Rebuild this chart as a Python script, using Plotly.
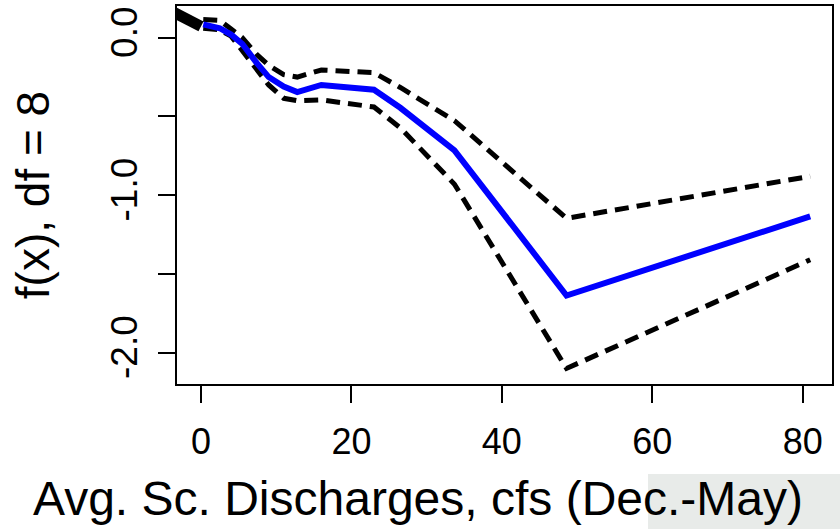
import plotly.graph_objects as go

# Data
x_vals = [0.3, 2.5, 4.0, 5.5, 7.4, 9.0, 11.0, 12.8, 16.0, 23.0, 26.5, 33.7, 48.6, 81.0]
fit_vals = [0.085, 0.06, 0.02, -0.04, -0.16, -0.25, -0.31, -0.345, -0.30, -0.33, -0.445, -0.715, -1.637, -1.135]
upper_vals = [0.115, 0.11, 0.055, 0.0, -0.106, -0.175, -0.235, -0.25, -0.205, -0.222, -0.316, -0.527, -1.147, -0.88]
lower_vals = [0.06, 0.05, 0.01, -0.08, -0.20, -0.30, -0.385, -0.40, -0.395, -0.44, -0.572, -0.93, -2.10, -1.41]

lead_x = [-4.0, 0.0]
lead_y = [0.170, 0.072]

x_ticks = [0, 20, 40, 60, 80]
x_ticktext = ["0", "20", "40", "60", "80"]
y_ticks = [0.0, -0.5, -1.0, -1.5, -2.0]
y_ticktext = ["0.0", "", "-1.0", "", "-2.0"]

x_title = "Avg. Sc. Discharges, cfs (Dec.-May)"
y_title = "f(x), df = 8"

FONT = "Liberation Sans, Arial, Helvetica, sans-serif"

L, R, T, B = 177, 832, 6, 384
W, H = 840, 529

def px_x(p):
    return (p - L) / (R - L)

def px_y(p):
    return (B - p) / (B - T)

fig = go.Figure()
fig.add_trace(go.Scatter(x=x_vals, y=upper_vals, mode="lines",
                         line=dict(color="black", width=5, dash="14px,8px")))
fig.add_trace(go.Scatter(x=x_vals, y=lower_vals, mode="lines",
                         line=dict(color="black", width=5, dash="14px,8px")))
fig.add_trace(go.Scatter(x=x_vals, y=fit_vals, mode="lines",
                         line=dict(color="#0000ff", width=6)))
fig.add_trace(go.Scatter(x=lead_x, y=lead_y, mode="lines",
                         line=dict(color="black", width=11)))

fig.update_layout(
    width=W, height=H,
    margin=dict(l=L, r=W - R, t=T, b=H - B, autoexpand=False),
    paper_bgcolor="white", plot_bgcolor="white",
    showlegend=False,
    font=dict(family=FONT, color="black"),
    shapes=[dict(type="rect", xref="paper", yref="paper",
                 x0=px_x(648), x1=px_x(845),
                 y0=px_y(535), y1=px_y(474),
                 fillcolor="#e8ebe9", line=dict(width=0), layer="below")],
    annotations=[dict(text=x_title, xref="paper", yref="paper",
                      x=px_x(418), y=px_y(470), xanchor="center", yanchor="top",
                      showarrow=False, font=dict(size=48, family=FONT, color="black"))],
)

fig.update_xaxes(
    range=[-3.19, 83.9], tickvals=x_ticks, ticktext=x_ticktext,
    showgrid=False, zeroline=False, automargin=False,
    showline=True, mirror=True, linecolor="black", linewidth=2,
    ticks="outside", ticklen=17, tickwidth=2, tickcolor="black",
    tickfont=dict(size=36, family=FONT), ticklabelstandoff=8,
)
fig.update_yaxes(
    range=[-2.199, 0.2013], tickvals=y_ticks, ticktext=y_ticktext,
    showgrid=False, zeroline=False, automargin=False,
    showline=True, mirror=True, linecolor="black", linewidth=2,
    ticks="outside", ticklen=17, tickwidth=2, tickcolor="black",
    tickfont=dict(size=37, family=FONT), tickangle=-90, ticklabelstandoff=6,
    title=dict(text=y_title, font=dict(size=46, family=FONT), standoff=40),
)

fig.write_html("out.html",
               config={"displayModeBar": False},
               post_script="document.body.style.margin='0';document.body.style.overflow='hidden';")
